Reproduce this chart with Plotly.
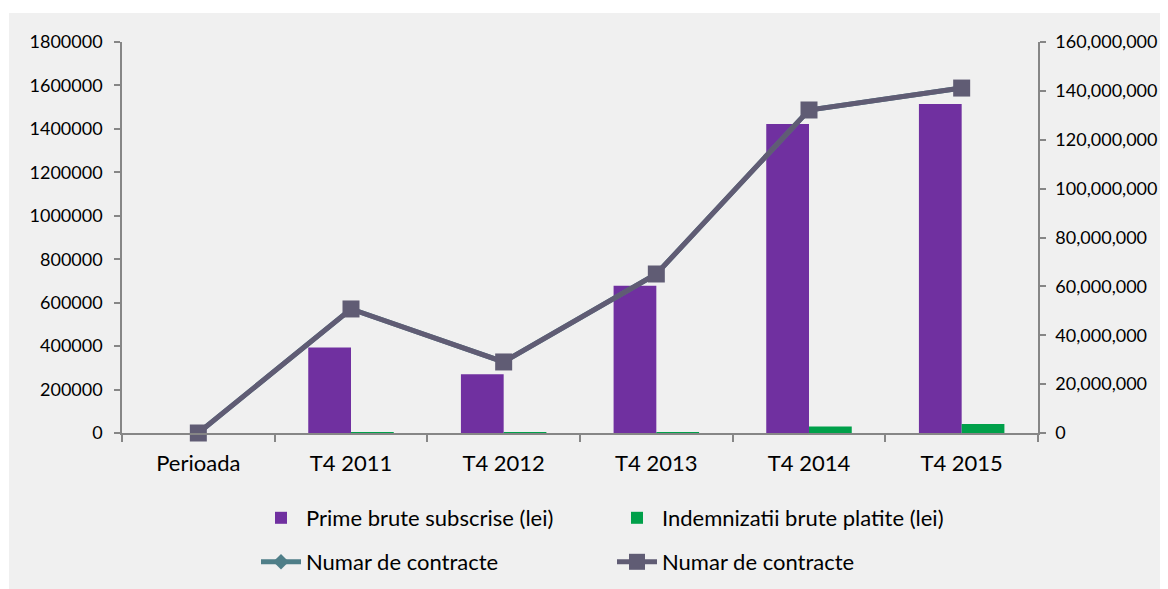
import plotly.graph_objects as go

categories = ["Perioada", "T4 2011", "T4 2012", "T4 2013", "T4 2014", "T4 2015"]
prime_brute = [0, 35000000, 24000000, 60300000, 126400000, 134600000]
indemnizatii = [0, 100000, 100000, 400000, 2700000, 3700000]
contracte = [0, 571000, 327000, 732000, 1487000, 1588000]

left_ticks = [0, 200000, 400000, 600000, 800000, 1000000, 1200000, 1400000, 1600000, 1800000]
right_ticks = [0, 20000000, 40000000, 60000000, 80000000, 100000000, 120000000, 140000000, 160000000]

FONT = "Lato"
AXIS_COL = "#868686"

fig = go.Figure()
fig.add_trace(go.Bar(x=categories, y=prime_brute, name="Prime brute subscrise (lei)",
                     marker=dict(color="#7030A0", line=dict(width=0)), yaxis="y",
                     legend="legend", showlegend=True))
fig.add_trace(go.Bar(x=categories, y=indemnizatii, name="Indemnizatii brute platite (lei)",
                     marker=dict(color="#00A04A", line=dict(width=0)), yaxis="y",
                     legend="legend2", showlegend=True))
fig.add_trace(go.Scatter(x=categories, y=contracte, name="Numar de contracte", yaxis="y2",
                         mode="lines+markers", cliponaxis=False,
                         line=dict(color="#4F7E88", width=5),
                         marker=dict(symbol="diamond", size=12, color="#4F7E88"),
                         legend="legend3", showlegend=True))
fig.add_trace(go.Scatter(x=categories, y=contracte, name="Numar de contracte", yaxis="y2",
                         mode="lines+markers", cliponaxis=False,
                         line=dict(color="#605C74", width=5),
                         marker=dict(symbol="square", size=17, color="#605C74"),
                         legend="legend4", showlegend=True))

# page has an 8px body margin; figure origin sits at (8, 8)
OFF = 8
W, H = 1160, 581
L, R, T, B = 114, 130, 34, 156
pw = W - L - R
ph = H - T - B

def fx(px):
    return (px - OFF - L) / pw

def fy(py):
    return (H - B - (py - OFF)) / ph

fig.add_shape(type="rect", xref="paper", yref="paper", layer="below",
              x0=fx(9), x1=fx(1175), y0=fy(13), y1=fy(600),
              fillcolor="#F0F0F0", line=dict(width=0))

def leg(xpx, ypx):
    return dict(orientation="v", x=fx(xpx), y=fy(ypx), xanchor="left", yanchor="middle",
                bgcolor="rgba(0,0,0,0)", font=dict(size=22), itemwidth=40)

fig.update_layout(
    width=W, height=H,
    showlegend=True,
    margin=dict(l=L, r=R, t=T, b=B, autoexpand=False),
    paper_bgcolor="white",
    plot_bgcolor="rgba(0,0,0,0)",
    font=dict(family=FONT, size=18, color="black"),
    barmode="group",
    bargap=0.44,
    bargroupgap=0,
    xaxis=dict(showgrid=False, showline=True, linecolor=AXIS_COL, linewidth=1.5,
               ticks="outside", tickson="boundaries", ticklen=7, tickcolor=AXIS_COL,
               tickwidth=1.5, tickfont=dict(size=22), zeroline=False,
               ticklabelstandoff=10),
    yaxis=dict(side="right", range=[0, 160000000], tickvals=right_ticks, tickformat=",d",
               showgrid=False, showline=True, linecolor=AXIS_COL, linewidth=1.5,
               ticks="outside", ticklen=6, tickcolor=AXIS_COL, tickwidth=1.5,
               zeroline=False, tickfont=dict(size=18), ticklabelstandoff=6),
    yaxis2=dict(side="left", overlaying="y", range=[0, 1800000], tickvals=left_ticks,
                tickformat="d", showgrid=False, showline=True, linecolor=AXIS_COL,
                linewidth=1.5, ticks="outside", ticklen=6, tickcolor=AXIS_COL,
                tickwidth=1.5, zeroline=False, tickfont=dict(size=18),
                ticklabelstandoff=8),
    legend=leg(256, 518),
    legend2=leg(612, 518),
    legend3=leg(256, 562),
    legend4=leg(612, 562),
)

fig.write_html("out.html")
